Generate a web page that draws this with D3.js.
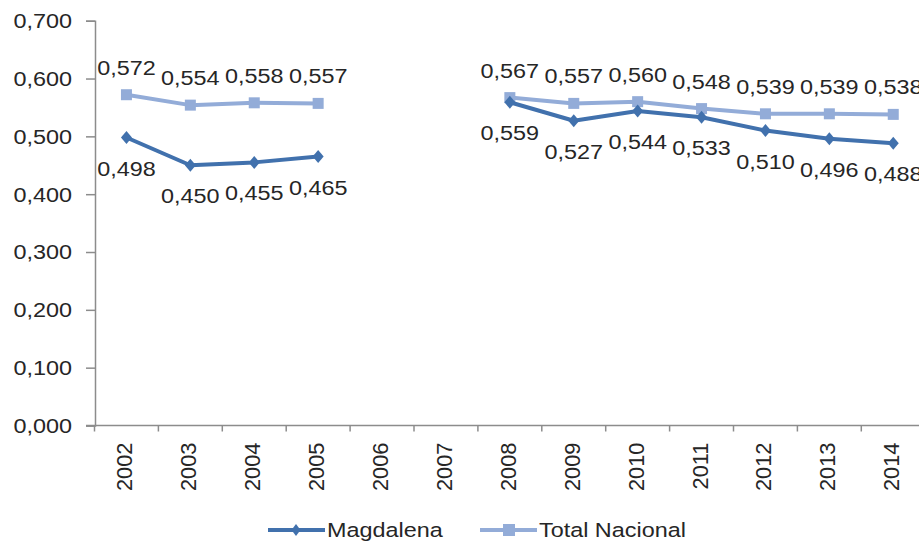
<!DOCTYPE html>
<html><head><meta charset="utf-8">
<script src="https://cdn.jsdelivr.net/npm/d3@7/dist/d3.min.js"></script>
<style>body{margin:0;background:#fff}svg{display:block}text{font-family:"Liberation Sans",Arial,sans-serif;fill:#262626}</style>
</head><body><svg id="c" width="919" height="545"></svg>
<script>
const years = ["2002","2003","2004","2005","2006","2007","2008","2009","2010","2011","2012","2013","2014"];
const magdalena = [0.498,0.450,0.455,0.465,null,null,0.559,0.527,0.544,0.533,0.510,0.496,0.488];
const totalNacional = [0.572,0.554,0.558,0.557,null,null,0.567,0.557,0.560,0.548,0.539,0.539,0.538];
const yTicks = [0,0.1,0.2,0.3,0.4,0.5,0.6,0.7];
const seriesNames = ["Magdalena","Total Nacional"];

const svg = d3.select("#c");
const plotLeft = 95, plotTop = 20.7, plotBottom = 425.5, bw = 63.9;
const FS = 19.5, SX = 1.2;
const x = d3.scaleBand().domain(years).range([plotLeft - 0.5, plotLeft - 0.5 + bw*years.length]);
const y = d3.scaleLinear().domain([0,0.7]).range([plotBottom, plotTop]);
const fmt = v => d3.format(".3f")(v).replace(".", ",");
const axisColor = "#8c8c8c";

// y axis
const ya = svg.append("g").attr("transform",`translate(${plotLeft},0)`)
  .call(d3.axisLeft(y).tickValues(yTicks).tickSize(9).tickFormat(fmt));
ya.select(".domain").attr("stroke",axisColor).attr("stroke-width",1.5);
ya.selectAll(".tick line").attr("stroke",axisColor).attr("stroke-width",1.5);
ya.selectAll(".tick text").attr("font-size",FS).attr("x",0).attr("dy","0.35em")
  .attr("transform",`translate(-23,0) scale(${SX},1)`)
  .attr("fill","#262626")
  .style("font-family","'Liberation Sans',Arial,sans-serif");

// x axis
const xg = svg.append("g").attr("transform",`translate(0,${plotBottom})`);
xg.append("line").attr("x1",plotLeft-9).attr("x2",919).attr("y1",0).attr("y2",0)
  .attr("stroke",axisColor).attr("stroke-width",1.5);
years.forEach(yr=>{
  xg.append("line").attr("x1",x(yr)).attr("x2",x(yr)).attr("y1",0).attr("y2",6)
    .attr("stroke",axisColor).attr("stroke-width",1.5);
});
xg.selectAll("text.yr").data(years).enter().append("text")
  .attr("class","yr")
  .attr("transform",d=>`translate(${x(d)+x.bandwidth()/2+6},17) rotate(-90) scale(1.12,1.1)`)
  .attr("text-anchor","end").attr("font-size",FS).text(d=>d);

const cx = d => x(d) + x.bandwidth()/2;
const colors = ["#4171ad","#93acd8"];

function drawSeries(vals, color, marker, labelAbove){
  const data = years.map((yr,i)=>({yr, v:vals[i]}));
  const line = d3.line().defined(d=>d.v!=null).x(d=>cx(d.yr)).y(d=>y(d.v));
  svg.append("path").datum(data).attr("d",line).attr("fill","none")
    .attr("stroke",color).attr("stroke-width",4).attr("stroke-linejoin","round");
  const pts = data.filter(d=>d.v!=null);
  if(marker==="square"){
    svg.selectAll(null).data(pts).enter().append("rect")
      .attr("x",d=>cx(d.yr)-5.5).attr("y",d=>y(d.v)-5.5).attr("width",11).attr("height",11)
      .attr("fill",color);
  } else {
    svg.selectAll(null).data(pts).enter().append("path")
      .attr("d","M0,-6.5L5.5,0L0,6.5L-5.5,0Z")
      .attr("transform",d=>`translate(${cx(d.yr)},${y(d.v)})`).attr("fill",color);
  }
  svg.selectAll(null).data(pts).enter().append("text")
    .attr("transform",d=>`translate(${cx(d.yr)},${y(d.v)+(labelAbove?-20:38)}) scale(${SX},1)`)
    .attr("text-anchor","middle").attr("font-size",FS).text(d=>fmt(d.v));
}
drawSeries(totalNacional, colors[1], "square", true);
drawSeries(magdalena, colors[0], "diamond", false);

// legend
const lg = svg.append("g");
const legY = 530;
const leg = [{n:seriesNames[0],c:colors[0],m:"diamond",x:268},{n:seriesNames[1],c:colors[1],m:"square",x:480}];
leg.forEach(l=>{
  lg.append("line").attr("x1",l.x).attr("x2",l.x+57).attr("y1",legY).attr("y2",legY)
    .attr("stroke",l.c).attr("stroke-width",4);
  if(l.m==="square") lg.append("rect").attr("x",l.x+23).attr("y",legY-6).attr("width",12).attr("height",12).attr("fill",l.c);
  else lg.append("path").attr("d","M0,-6L4.5,0L0,6L-4.5,0Z").attr("transform",`translate(${l.x+28},${legY})`).attr("fill",l.c);
  lg.append("text").attr("transform",`translate(${l.x+59},${legY+7}) scale(${SX},1)`)
    .attr("font-size",FS).text(l.n);
});
</script></body></html>
